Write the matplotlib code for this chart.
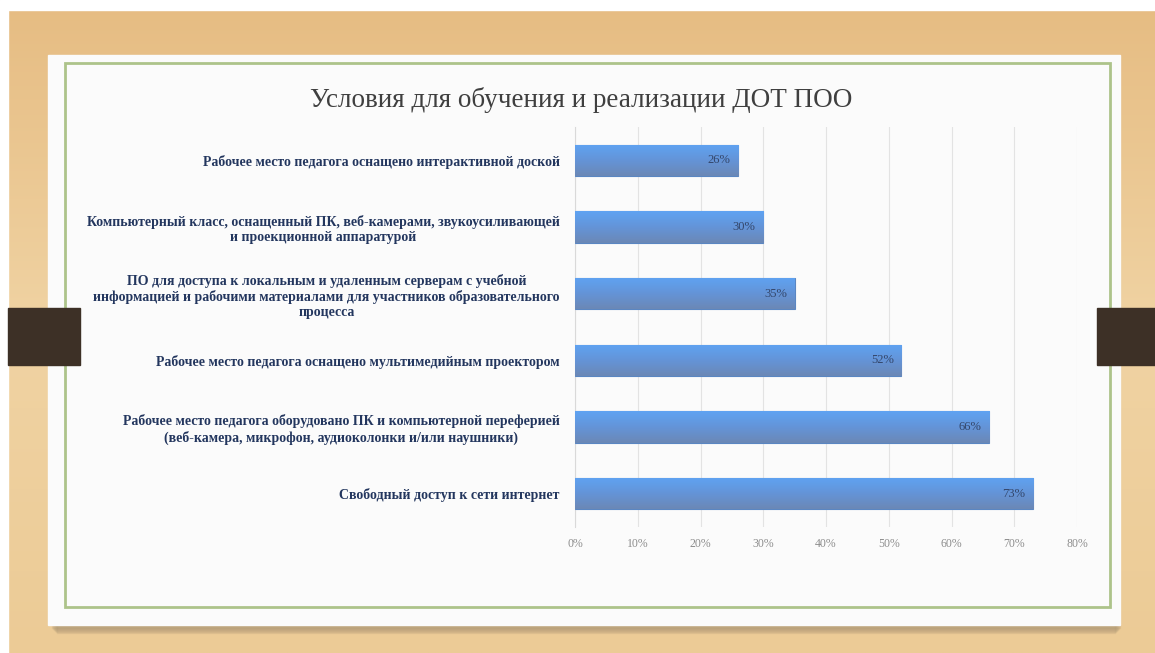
import numpy as np
import matplotlib.pyplot as plt
from matplotlib.colors import LinearSegmentedColormap
from matplotlib.patches import Rectangle

# данные
labels = [
    "Рабочее место педагога оснащено интерактивной доской",
    "Компьютерный класс, оснащенный ПК, веб-камерами, звукоусиливающей\nи проекционной аппаратурой",
    "ПО для доступа к локальным и удаленным серверам с учебной\nинформацией и рабочими материалами для участников образовательного\nпроцесса",
    "Рабочее место педагога оснащено мультимедийным проектором",
    "Рабочее место педагога оборудовано ПК и компьютерной переферией\n(веб-камера, микрофон, аудиоколонки и/или наушники)",
    "Свободный доступ к сети интернет",
]
values = [26, 30, 35, 52, 66, 73]
xticks = [0, 10, 20, 30, 40, 50, 60, 70, 80]
title = "Условия для обучения и реализации ДОТ ПОО"

W, H = 1155, 653
fig = plt.figure(figsize=(W / 100, H / 100), dpi=100)

# фон слайда (в пикселях)
bg = fig.add_axes([0, 0, 1, 1], zorder=0)
bg.set_xlim(0, W)
bg.set_ylim(H, 0)
bg.axis('off')
tan = LinearSegmentedColormap.from_list('tan', ['#e6bc82', '#f0d3a3', '#eccb96'])
grad = np.linspace(0, 1, 256).reshape(-1, 1) * np.ones((1, 4))
bg.imshow(grad, cmap=tan, extent=(0, W, H, 0), aspect='auto')
bg.add_patch(Rectangle((0, 0), W, 10, color='white'))
bg.add_patch(Rectangle((0, 0), 8, H, color='white'))
# тень и карточка
for k in range(6):
    bg.add_patch(Rectangle((52 + k, 58 + k), 1068 - 2 * k, 570, color='#9c8a6c', alpha=0.12))
bg.add_patch(Rectangle((48, 55), 1072, 570, color='#fbfbfb'))
bg.add_patch(Rectangle((65, 63), 1045, 544, fill=False, ec='#adc38a', lw=2))
# боковые держатели
bg.add_patch(Rectangle((8, 308), 72, 57, color='#3d3026'))
bg.add_patch(Rectangle((1097, 308), 58, 57, color='#3d3026'))

fig.text(0.503, 1 - 100 / H, title, ha='center', va='center',
         fontsize=19.5, family='Liberation Serif', color='#3f3f3f')

ax = fig.add_axes([575 / W, 1 - 527 / H, 502 / W, 400 / H], zorder=2)
ax.patch.set_alpha(0)
y = np.arange(len(values))
bars = ax.barh(y, values, height=0.47, color='#6a9ee0', edgecolor='#5a86c2', lw=0.8, zorder=3)

blue = LinearSegmentedColormap.from_list('blue', ['#5fa3f2', '#6494d8', '#6b88b6'])
g = np.linspace(0, 1, 64).reshape(-1, 1)
for b in bars:
    x0, y0, w, h = b.get_x(), b.get_y(), b.get_width(), b.get_height()
    im = ax.imshow(g, cmap=blue, extent=(x0, x0 + w, y0 + h, y0), aspect='auto',
                   origin='upper', zorder=3.5)
    im.set_clip_path(b)

for yi, v in zip(y, values):
    ax.text(v - 1.2, yi, f"{v}%", ha='right', va='center', fontsize=9,
            family='Liberation Serif', color='#34476b', zorder=5)

ax.set_xlim(0, 80)
ax.set_ylim(len(values) - 0.5, -0.5)
ax.set_xticks(xticks)
ax.set_xticklabels([f"{t}%" for t in xticks], family='Liberation Serif', fontsize=8.5, color='#8c8c8c')
ax.set_yticks(y)
ax.set_yticklabels(labels, family='Liberation Serif', fontsize=10, fontweight='bold',
                   color='#23365e', ha='right', multialignment='center')
ax.tick_params(axis='y', length=0, pad=11)
ax.tick_params(axis='x', length=0, pad=8)
ax.grid(axis='x', color='#e3e3e3', lw=0.8, zorder=0)
for s in ['top', 'right', 'bottom']:
    ax.spines[s].set_visible(False)
ax.spines['left'].set_color('#d9d9d9')

fig.savefig('out.png', dpi=100)
